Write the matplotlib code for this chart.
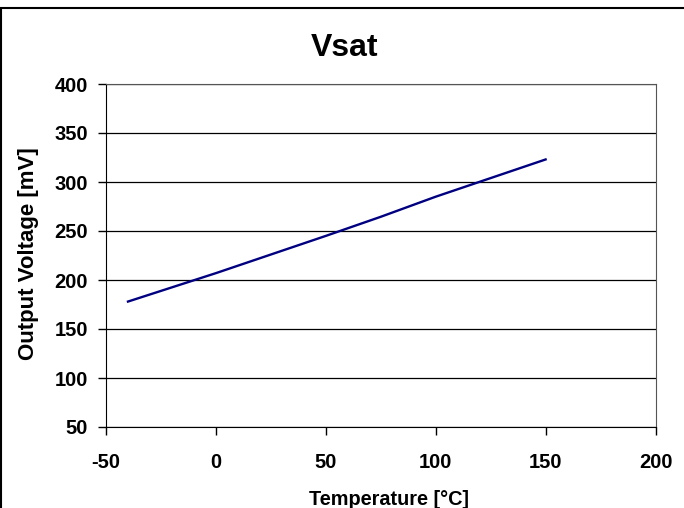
import matplotlib
matplotlib.use("Agg")
import matplotlib.pyplot as plt
from matplotlib.patches import Rectangle

# values
temperature = [-40, -20, 0, 25, 50, 75, 100, 125, 150]
vsat_mv = [178, 192.5, 207, 226, 245, 264.5, 285, 304, 323]
x_ticks = [-50, 0, 50, 100, 150, 200]
y_ticks = [50, 100, 150, 200, 250, 300, 350, 400]

plt.rcParams['font.family'] = ['Liberation Sans', 'DejaVu Sans']
plt.rcParams['font.weight'] = 'bold'
plt.rcParams['axes.unicode_minus'] = False

W, H = 684, 508
fig = plt.figure(figsize=(W / 100, H / 100), dpi=100)
ax = fig.add_axes([106 / W, 1 - 427 / H, (655.5 - 106) / W, (427 - 84) / H])

ax.plot(temperature, vsat_mv, color='#000080', linewidth=1.7)

ax.set_xlim(-50, 200)
ax.set_ylim(50, 400)
ax.set_xticks(x_ticks)
ax.set_yticks(y_ticks)
ax.yaxis.grid(True, color='#000000', linewidth=0.9)
ax.set_axisbelow(True)

ax.tick_params(axis='both', direction='out', length=6, width=1, labelsize=14.5)
ax.tick_params(axis='x', pad=13)
ax.tick_params(axis='y', pad=7)
for lbl in ax.get_xticklabels() + ax.get_yticklabels():
    lbl.set_fontweight('bold')

ax.spines['left'].set_color('#000000')
ax.spines['bottom'].set_color('#000000')
ax.spines['top'].set_color('#555555')
ax.spines['right'].set_color('#555555')

# axis titles and chart title placed like the reference
fig.text(389 / W, 1 - 505 / H, "Temperature [°C]", fontsize=14.3, fontweight='bold',
         ha='center', va='baseline')
fig.text(29 / W, 1 - 254 / H, "Output Voltage [mV]", fontsize=16, fontweight='bold',
         ha='center', va='center', rotation=90)
fig.text(345 / W, 1 - 48 / H, "Vsat", fontsize=23, fontweight='bold',
         ha='center', va='center')

# outer chart border (cut off at right and bottom in the reference)
fig.patches.append(Rectangle((0.001, -0.1), 1.2, 1 + 0.1 - 8.5 / H,
                             transform=fig.transFigure, fill=False,
                             edgecolor='black', linewidth=1.5))

fig.savefig("out.png", dpi=100, facecolor='white')
